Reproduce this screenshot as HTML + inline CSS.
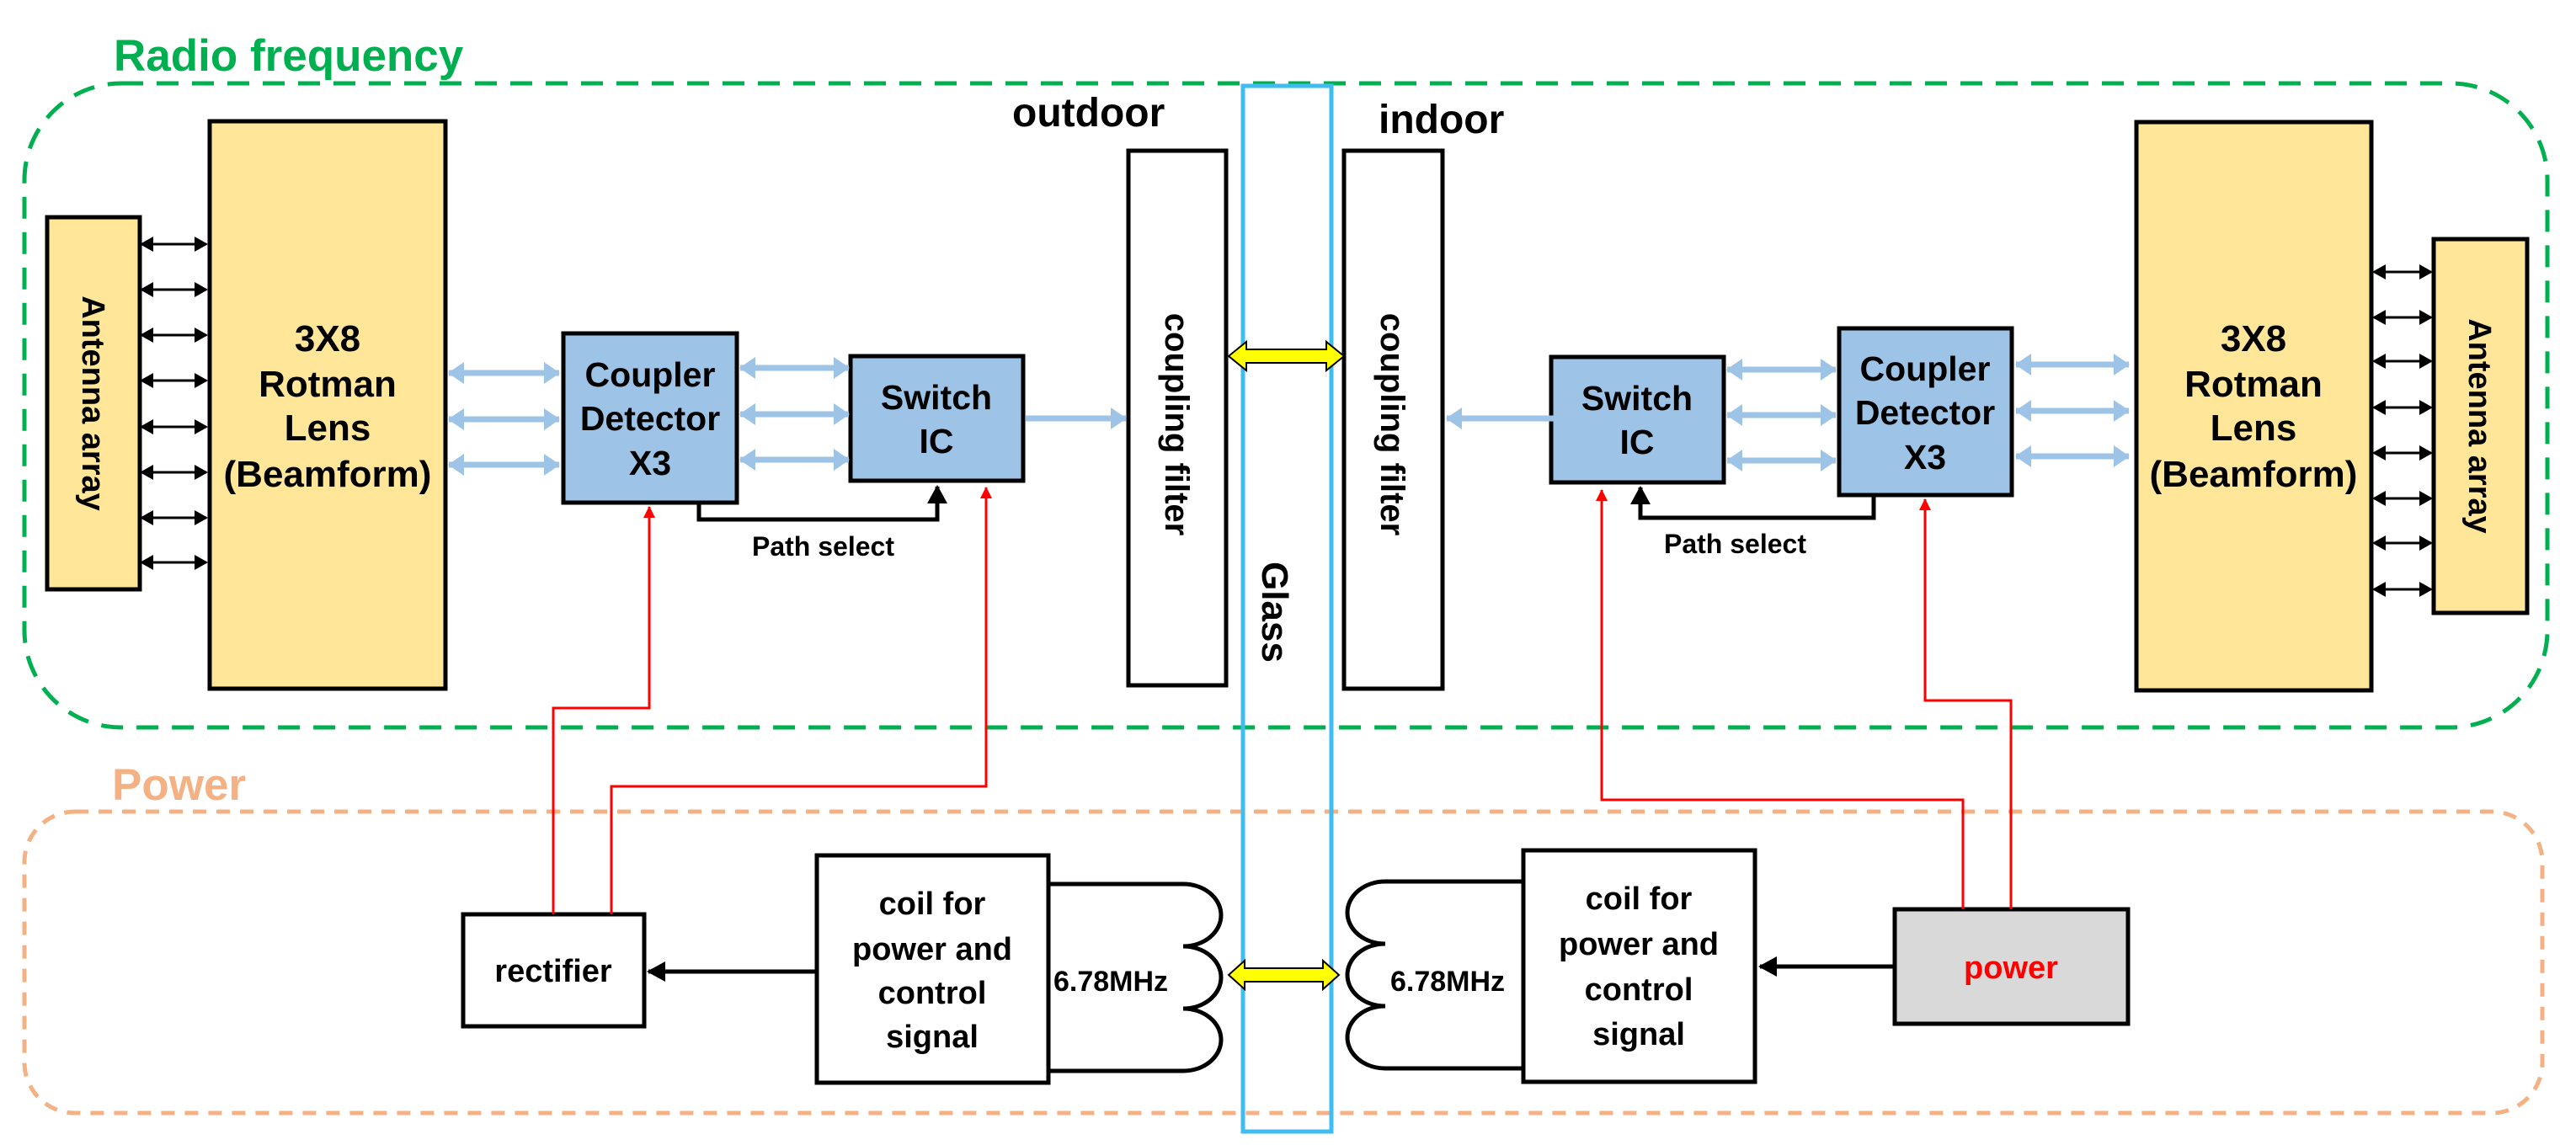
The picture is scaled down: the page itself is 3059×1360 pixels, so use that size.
<!DOCTYPE html>
<html><head><meta charset="utf-8"><style>
html,body{margin:0;padding:0;background:#fff;}
svg{display:block;}
text{font-family:"Liberation Sans",Arial,sans-serif;font-weight:bold;}
</style></head><body>
<svg width="3059" height="1360" viewBox="0 0 3059 1360" xmlns="http://www.w3.org/2000/svg">
<defs>
<marker id="bk" markerUnits="userSpaceOnUse" markerWidth="16" markerHeight="18" refX="14" refY="9" orient="auto-start-reverse"><path d="M0,0 L16,9 L0,18 Z" fill="#000"/></marker>
<marker id="bl" markerUnits="userSpaceOnUse" markerWidth="20" markerHeight="26" refX="18" refY="13" orient="auto-start-reverse"><path d="M0,0 L19,13 L0,26 Z" fill="#9dc3e6"/></marker>
<marker id="rd" markerUnits="userSpaceOnUse" markerWidth="14" markerHeight="18" refX="13" refY="7" orient="auto"><path d="M0,0 L14,7 L0,14 Z" fill="#ff0000"/></marker>
<marker id="bk2" markerUnits="userSpaceOnUse" markerWidth="22" markerHeight="24" refX="20" refY="12" orient="auto"><path d="M0,0 L22,12 L0,24 Z" fill="#000"/></marker>
</defs>

<rect x="29" y="99" width="2996" height="765" rx="115" ry="115" fill="none" stroke="#00b050" stroke-width="5" stroke-dasharray="26,16"/>
<text x="135" y="84" font-size="53" fill="#00b050">Radio frequency</text>
<rect x="29" y="964" width="2990" height="358" rx="60" ry="60" fill="none" stroke="#f4b183" stroke-width="5" stroke-dasharray="16,12"/>
<text x="133" y="950" font-size="53" fill="#f4b183">Power</text>

<rect x="1476" y="102" width="105" height="1242" fill="none" stroke="#3fbcf0" stroke-width="5"/>
<text transform="translate(1514,727) rotate(90)" text-anchor="middle" font-size="44" dy="15">Glass</text>
<text x="1202" y="150" font-size="48">outdoor</text>
<text x="1637" y="158" font-size="48">indoor</text>

<rect x="56" y="258" width="110" height="442" fill="#ffe699" stroke="#000" stroke-width="5"/>
<text transform="translate(111,479) rotate(90)" text-anchor="middle" font-size="38" dy="13">Antenna array</text>
<rect x="249" y="144" width="280" height="674" fill="#ffe699" stroke="#000" stroke-width="5"/>
<g font-size="44" text-anchor="middle"><text x="389" y="417">3X8</text><text x="389" y="471">Rotman</text><text x="389" y="523">Lens</text><text x="389" y="578">(Beamform)</text></g>
<g stroke="#000" stroke-width="3" marker-start="url(#bk)" marker-end="url(#bk)">
<line x1="168" y1="290" x2="245" y2="290"/><line x1="168" y1="344" x2="245" y2="344"/><line x1="168" y1="398" x2="245" y2="398"/><line x1="168" y1="452" x2="245" y2="452"/><line x1="168" y1="507" x2="245" y2="507"/><line x1="168" y1="561" x2="245" y2="561"/><line x1="168" y1="615" x2="245" y2="615"/><line x1="168" y1="668" x2="245" y2="668"/>
</g>
<rect x="669" y="396" width="206" height="201" fill="#9dc3e6" stroke="#000" stroke-width="5"/>
<g font-size="41" text-anchor="middle"><text x="772" y="459">Coupler</text><text x="772" y="511">Detector</text><text x="772" y="564">X3</text></g>
<rect x="1010" y="423" width="205" height="148" fill="#9dc3e6" stroke="#000" stroke-width="5"/>
<g font-size="41" text-anchor="middle"><text x="1112" y="486">Switch</text><text x="1112" y="538">IC</text></g>
<g stroke="#9dc3e6" stroke-width="7" marker-start="url(#bl)" marker-end="url(#bl)">
<line x1="533" y1="443" x2="664" y2="443"/><line x1="533" y1="498" x2="664" y2="498"/><line x1="533" y1="552" x2="664" y2="552"/>
<line x1="879" y1="437" x2="1008" y2="437"/><line x1="879" y1="492" x2="1008" y2="492"/><line x1="879" y1="546" x2="1008" y2="546"/>
</g>
<line x1="1218" y1="497" x2="1337" y2="497" stroke="#9dc3e6" stroke-width="7" marker-end="url(#bl)"/>
<rect x="1340" y="179" width="116" height="635" fill="#fff" stroke="#000" stroke-width="5"/>
<text transform="translate(1398,504) rotate(90)" text-anchor="middle" font-size="40" dy="14">coupling filter</text>
<polyline points="830,597 830,617 1113,617 1113,578" fill="none" stroke="#000" stroke-width="5" marker-end="url(#bk2)"/>
<text x="893" y="660" font-size="32">Path select</text>

<rect x="1596" y="179" width="117" height="639" fill="#fff" stroke="#000" stroke-width="5"/>
<text transform="translate(1654,504) rotate(90)" text-anchor="middle" font-size="40" dy="14">coupling filter</text>
<rect x="1842" y="424" width="205" height="149" fill="#9dc3e6" stroke="#000" stroke-width="5"/>
<g font-size="41" text-anchor="middle"><text x="1944" y="487">Switch</text><text x="1944" y="539">IC</text></g>
<rect x="2184" y="390" width="205" height="198" fill="#9dc3e6" stroke="#000" stroke-width="5"/>
<g font-size="41" text-anchor="middle"><text x="2286" y="452">Coupler</text><text x="2286" y="504">Detector</text><text x="2286" y="557">X3</text></g>
<rect x="2537" y="145" width="279" height="675" fill="#ffe699" stroke="#000" stroke-width="5"/>
<g font-size="44" text-anchor="middle"><text x="2676" y="417">3X8</text><text x="2676" y="471">Rotman</text><text x="2676" y="523">Lens</text><text x="2676" y="578">(Beamform)</text></g>
<rect x="2890" y="284" width="111" height="444" fill="#ffe699" stroke="#000" stroke-width="5"/>
<text transform="translate(2945,506) rotate(90)" text-anchor="middle" font-size="38" dy="13">Antenna array</text>
<g stroke="#000" stroke-width="3" marker-start="url(#bk)" marker-end="url(#bk)">
<line x1="2819" y1="323" x2="2887" y2="323"/><line x1="2819" y1="377" x2="2887" y2="377"/><line x1="2819" y1="429" x2="2887" y2="429"/><line x1="2819" y1="484" x2="2887" y2="484"/><line x1="2819" y1="538" x2="2887" y2="538"/><line x1="2819" y1="592" x2="2887" y2="592"/><line x1="2819" y1="645" x2="2887" y2="645"/><line x1="2819" y1="700" x2="2887" y2="700"/>
</g>
<g stroke="#9dc3e6" stroke-width="7" marker-start="url(#bl)" marker-end="url(#bl)">
<line x1="2051" y1="439" x2="2180" y2="439"/><line x1="2051" y1="493" x2="2180" y2="493"/><line x1="2051" y1="547" x2="2180" y2="547"/>
<line x1="2394" y1="433" x2="2528" y2="433"/><line x1="2394" y1="488" x2="2528" y2="488"/><line x1="2394" y1="542" x2="2528" y2="542"/>
</g>
<line x1="2040" y1="497" x2="1718" y2="497" stroke="#9dc3e6" stroke-width="7" marker-end="url(#bl)"/>
<polyline points="2225,590 2225,615 1948,615 1948,579" fill="none" stroke="#000" stroke-width="5" marker-end="url(#bk2)"/>
<text x="1976" y="657" font-size="32">Path select</text>

<polygon points="1459,423 1480,406 1480,415 1575,415 1575,406 1596,423 1575,440 1575,431 1480,431 1480,440" fill="#ffff00" stroke="#000" stroke-width="2"/>
<polygon points="1459,1158 1478,1141 1478,1150 1571,1150 1571,1141 1590,1158 1571,1175 1571,1166 1478,1166 1478,1175" fill="#ffff00" stroke="#000" stroke-width="2"/>

<rect x="550" y="1086" width="215" height="133" fill="#fff" stroke="#000" stroke-width="5"/>
<text x="657" y="1166" font-size="38" text-anchor="middle">rectifier</text>
<rect x="970" y="1016" width="275" height="270" fill="#fff" stroke="#000" stroke-width="5"/>
<g font-size="38" text-anchor="middle"><text x="1107" y="1086">coil for</text><text x="1107" y="1140">power and</text><text x="1107" y="1192">control</text><text x="1107" y="1244">signal</text></g>
<path d="M1245,1050 H1405 A45,37 0 0 1 1405,1124 A45,37 0 0 1 1405,1198 A45,37 0 0 1 1405,1272 H1245" fill="none" stroke="#000" stroke-width="5"/>
<text x="1251" y="1177" font-size="34">6.78MHz</text>
<rect x="1809" y="1010" width="275" height="275" fill="#fff" stroke="#000" stroke-width="5"/>
<g font-size="38" text-anchor="middle"><text x="1946" y="1080">coil for</text><text x="1946" y="1134">power and</text><text x="1946" y="1188">control</text><text x="1946" y="1241">signal</text></g>
<path d="M1809,1047 H1645 A45,37 0 0 0 1645,1121 A45,37 0 0 0 1645,1195 A45,37 0 0 0 1645,1269 H1809" fill="none" stroke="#000" stroke-width="5"/>
<text x="1651" y="1177" font-size="34">6.78MHz</text>
<rect x="2250" y="1080" width="277" height="136" fill="#d9d9d9" stroke="#000" stroke-width="5"/>
<text x="2388" y="1162" font-size="38" text-anchor="middle" fill="#ff0000">power</text>
<line x1="970" y1="1154" x2="770" y2="1154" stroke="#000" stroke-width="5" marker-end="url(#bk2)"/>
<line x1="2250" y1="1148" x2="2090" y2="1148" stroke="#000" stroke-width="5" marker-end="url(#bk2)"/>

<g fill="none" stroke="#ff0000" stroke-width="3">
<polyline points="657,1086 657,841 771,841 771,602" marker-end="url(#rd)"/>
<polyline points="726,1086 726,934 1171,934 1171,579" marker-end="url(#rd)"/>
<polyline points="2331,1080 2331,950 1902,950 1902,582" marker-end="url(#rd)"/>
<polyline points="2388,1080 2388,832 2286,832 2286,593" marker-end="url(#rd)"/>
</g>
</svg>
</body></html>
